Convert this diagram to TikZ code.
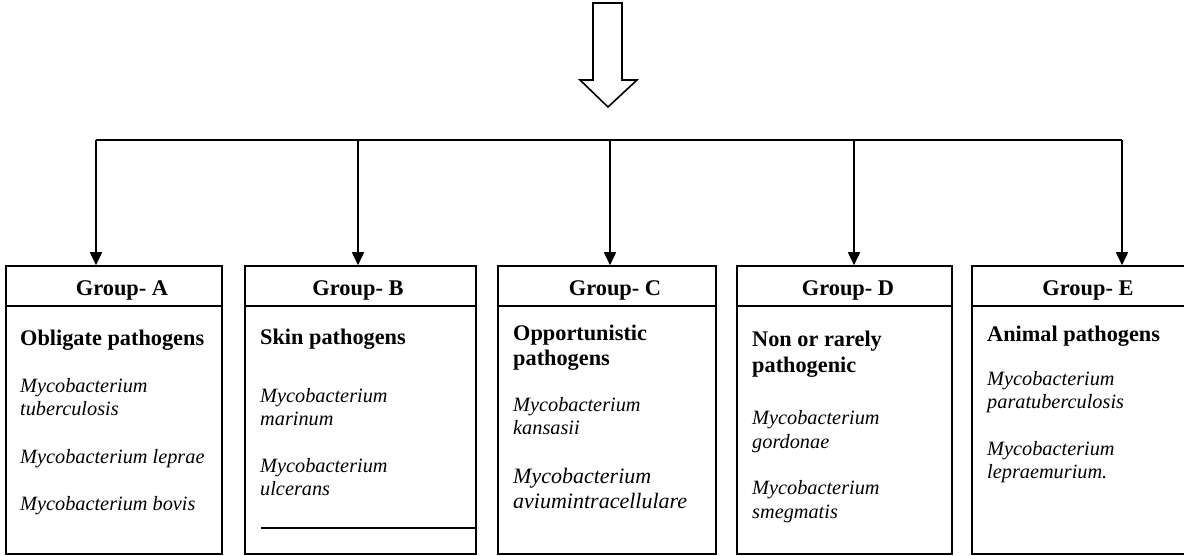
\documentclass[tikz,border=0pt]{standalone}
\usepackage{fontspec}
\setmainfont{Liberation Serif}
\usetikzlibrary{arrows.meta}
\begin{document}
\begin{tikzpicture}[x=1pt,y=-1pt,
  ln/.style={line width=1.6pt},
  arr/.style={line width=1.6pt,-{Triangle[width=12pt,length=13pt]}},
  box/.style={draw,line width=1.6pt,rectangle,inner sep=0pt,minimum height=288pt},
  hd/.style={font=\fontsize{22.4}{26}\selectfont\bfseries,inner sep=0pt,text height=15pt,text depth=4pt},
  bt/.style={font=\fontsize{22.3}{26}\selectfont\bfseries,anchor=west,inner sep=0pt,text height=15pt,text depth=4pt},
  it/.style={font=\fontsize{20.3}{24}\selectfont\itshape,anchor=west,inner sep=0pt,text height=14pt,text depth=4pt},
  itb/.style={font=\fontsize{22}{26}\selectfont\itshape,anchor=west,inner sep=0pt,text height=15pt,text depth=4pt}]
\useasboundingbox (0,0) rectangle (1184,556);
% top block arrow
\draw[ln,line join=miter] (593,3) -- (622,3) -- (622,80) -- (637,80) -- (608,107) -- (580,80) -- (593,80) -- cycle;
% boxes
\node[box,minimum width=216pt] (A) at (114,410) {};
\node[box,minimum width=231pt] (B) at (360.5,410) {};
\node[box,minimum width=218pt] (C) at (607,410) {};
\node[box,minimum width=215pt] (D) at (844.5,410) {};
\node[box,minimum width=222pt] (E) at (1083,410) {};
\foreach \b in {A,B,C,D,E}{
  \draw[ln] ([yshift=-41pt]\b.north west) -- ([yshift=-41pt]\b.north east);
}
\coordinate (bl) at (261,528);
\draw[ln] (bl) -- (bl -| B.east);
% connectors
\coordinate (ha) at (96,140);
\coordinate (hb) at (358,140);
\coordinate (hc) at (610,140);
\coordinate (hd) at (854,140);
\coordinate (he) at (1122,140);
\draw[ln] (ha) -- (he);
\draw[arr] (ha) -- (ha |- A.north);
\draw[arr] (hb) -- (hb |- B.north);
\draw[arr] (hc) -- (hc |- C.north);
\draw[arr] (hd) -- (hd |- D.north);
\draw[arr] (he) -- (he |- E.north);
% headers
\node[hd] (hA) at (122,290) {Group- A};
\node[hd] (hB) at (358,290) {Group- B};
\node[hd] (hC) at (615,290) {Group- C};
\node[hd] (hD) at (848,290) {Group- D};
\node[hd] (hE) at (1088,290) {Group- E};
% Group A
\node[bt] (a1) at (20,340) {Obligate pathogens};
\node[it] (a2) at (20,387) {Mycobacterium};
\node[it] (a3) at (20,410) {tuberculosis};
\node[it] (a4) at (20,458) {Mycobacterium leprae};
\node[it] (a5) at (20,505) {Mycobacterium bovis};
% Group B
\node[bt] (b1) at (260,339) {Skin pathogens};
\node[it] (b2) at (260,397) {Mycobacterium};
\node[it] (b3) at (260,420) {marinum};
\node[it] (b4) at (260,467) {Mycobacterium};
\node[it] (b5) at (260,490) {ulcerans};
% Group C
\node[bt] (c1) at (513,335) {Opportunistic};
\node[bt] (c2) at (513,360) {pathogens};
\node[it] (c3) at (513,406) {Mycobacterium};
\node[it] (c4) at (513,429) {kansasii};
\node[itb] (c5) at (513,478) {Mycobacterium};
\node[itb] (c6) at (513,503) {aviumintracellulare};
% Group D
\node[bt] (d1) at (752,341) {Non or rarely};
\node[bt] (d2) at (752,367) {pathogenic};
\node[it] (d3) at (752,419) {Mycobacterium};
\node[it] (d4) at (752,443) {gordonae};
\node[it] (d5) at (752,489) {Mycobacterium};
\node[it] (d6) at (752,513) {smegmatis};
% Group E
\node[bt] (e1) at (987,336) {Animal pathogens};
\node[it] (e2) at (987,380) {Mycobacterium};
\node[it] (e3) at (987,403) {paratuberculosis};
\node[it] (e4) at (987,450) {Mycobacterium};
\node[it] (e5) at (987,473) {lepraemurium.};
\end{tikzpicture}
\end{document}
